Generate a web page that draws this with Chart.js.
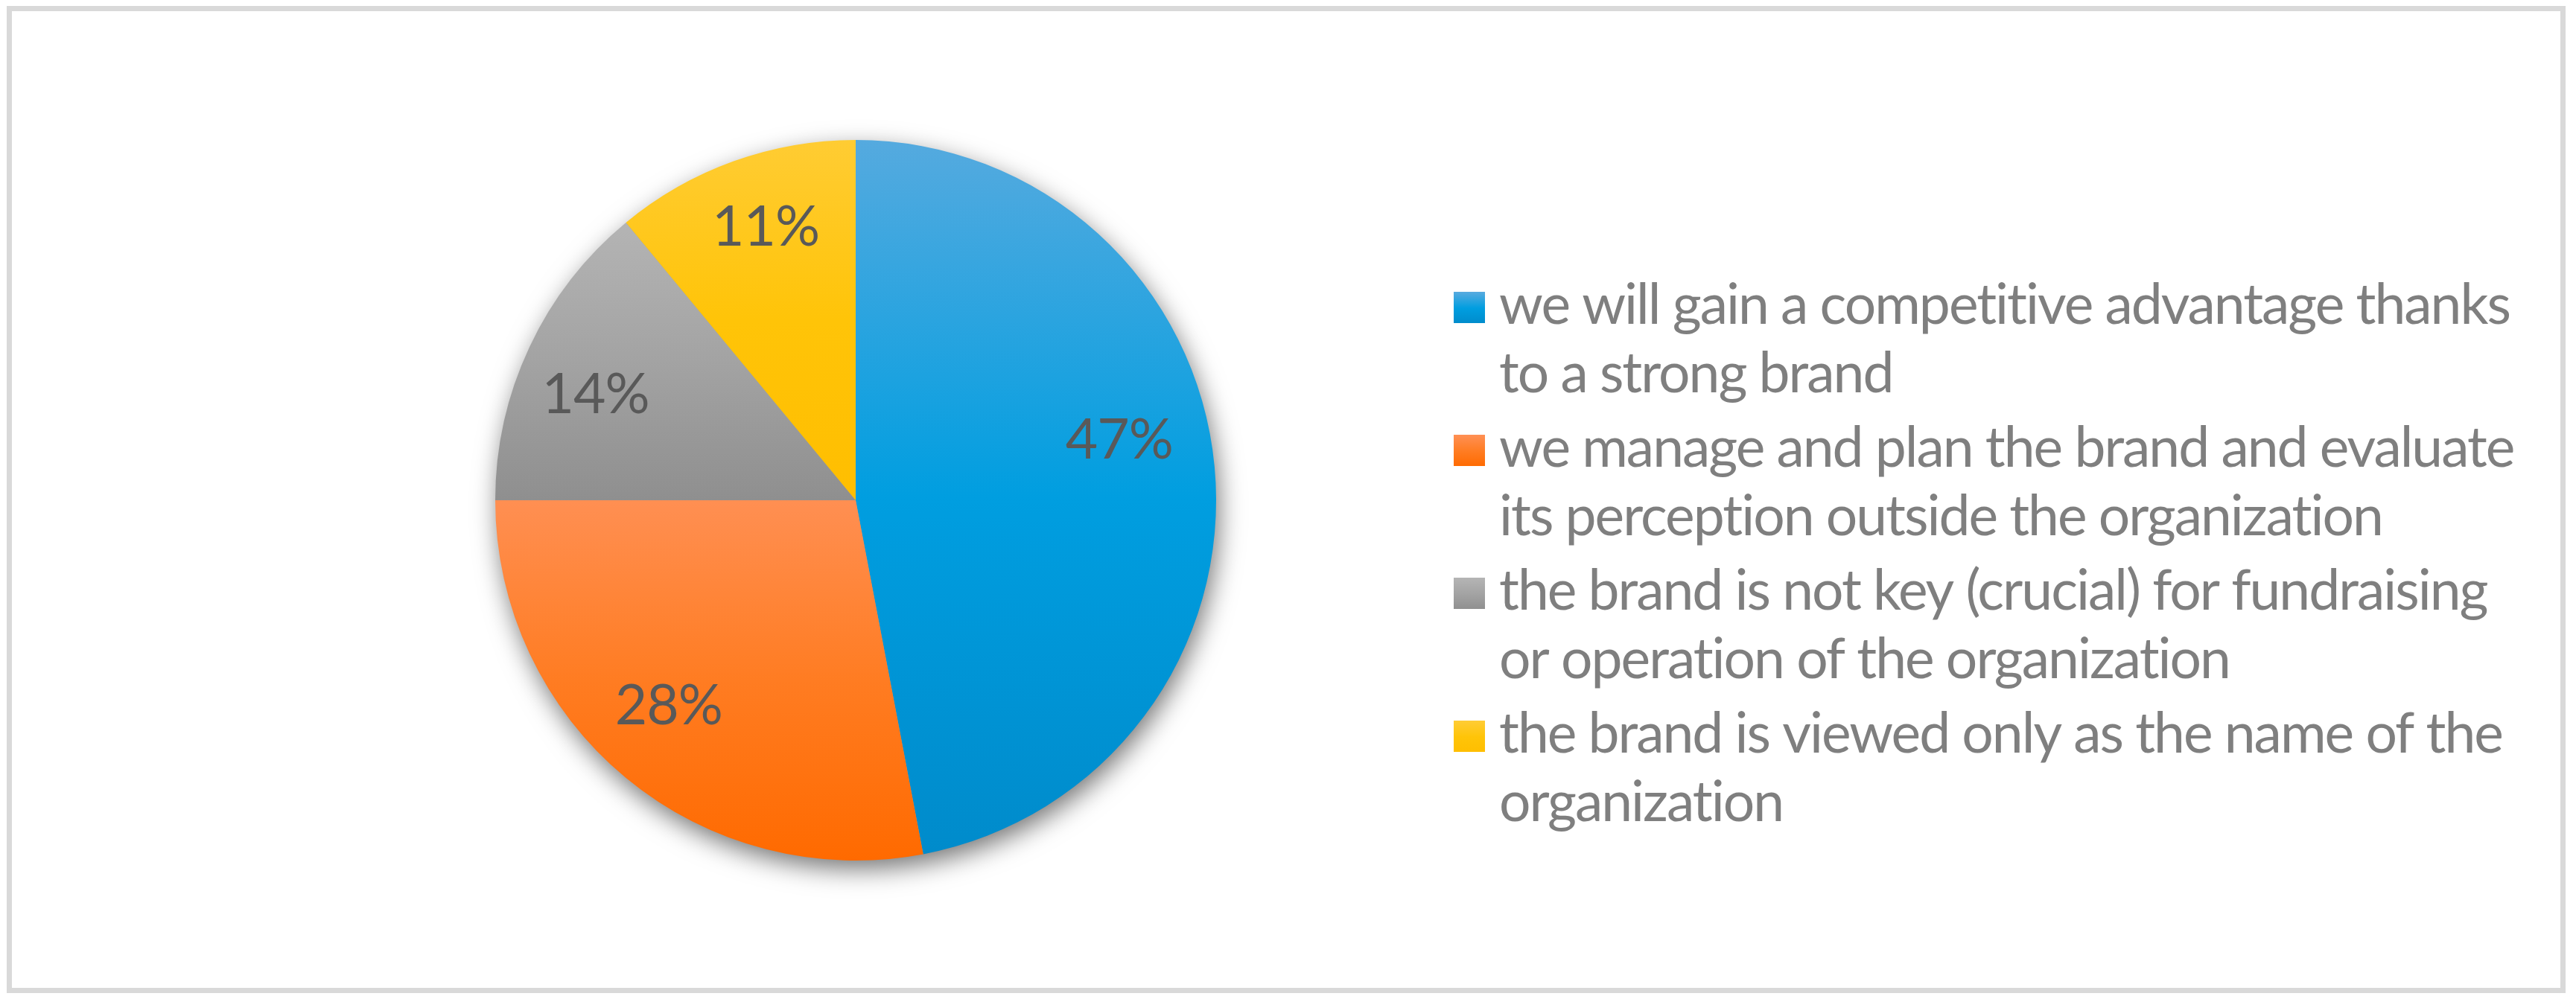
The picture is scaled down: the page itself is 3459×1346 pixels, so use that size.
<!DOCTYPE html>
<html>
<head>
<meta charset="utf-8">
<script src="https://cdn.jsdelivr.net/npm/chart.js@4.4.1/dist/chart.umd.min.js"></script>
<style>
  html, body { margin:0; padding:0; background:#fff; }
  #wrap { position:relative; width:3459px; height:1346px; }
  #frame { position:absolute; left:9px; top:8px; width:3436px; height:1326px;
           border:7px solid #d9d9d9; box-sizing:border-box; }
  #pie { position:absolute; left:0; top:0; }
</style>
</head>
<body>
<div id="wrap">
  <div id="frame"></div>
  <canvas id="pie" width="3459" height="1346"></canvas>
</div>
<script>
// ---------------- DATA ----------------
const categories = [
  ["we will gain a competitive advantage thanks", "to a strong brand"],
  ["we manage and plan the brand and evaluate", "its perception outside the organization"],
  ["the brand is not key (crucial) for fundraising", "or operation of the organization"],
  ["the brand is viewed only as the name of the", "organization"]
];
const shares = [47, 28, 14, 11];

// ---------------- STYLE ----------------
// gradient stops per slice, top -> bottom
const sliceStops = [
  ["#55aadf", "#009ee0", "#008bcb"],
  ["#ff8f52", "#ff7c22", "#ff6a00"],
  ["#b4b4b4", "#a3a3a3", "#8f8f8f"],
  ["#ffcc33", "#ffc408", "#ffbe00"]
];
// small nudges so the % labels sit where the original put them
const labelTurn = [-7.5, 2.8, -3, 1.6];
const labelDist = [0.75, 0.77, 0.78, 0.80];

const FONT = "Lato, 'Open Sans', sans-serif";
const fontSize = 75;
const squeeze = "-2px";   // Lato runs a bit wider than the original face

function sliceFill(ctx){
    const chart = ctx.chart, area = chart.chartArea, i = ctx.dataIndex;
    if (!area || i === undefined) return sliceStops[i || 0][1];
    const cy = (area.top + area.bottom) / 2;
    const r = Math.min(area.right - area.left, area.bottom - area.top) / 2;
    const total = shares.reduce((a, b) => a + b, 0);
    const before = shares.slice(0, i).reduce((a, b) => a + b, 0);
    const a0 = -Math.PI / 2 + before / total * 2 * Math.PI;
    const a1 = a0 + shares[i] / total * 2 * Math.PI;
    const ys = [cy, cy + r * Math.sin(a0), cy + r * Math.sin(a1)];
    [-Math.PI / 2, Math.PI / 2, 3 * Math.PI / 2].forEach(a => {
        if (a >= a0 - 1e-6 && a <= a1 + 1e-6) ys.push(cy + r * Math.sin(a));
    });
    const g = chart.ctx.createLinearGradient(0, Math.min(...ys), 0, Math.max(...ys));
    const s = sliceStops[i];
    g.addColorStop(0, s[0]);
    g.addColorStop(0.5, s[1]);
    g.addColorStop(1, s[2]);
    return g;
}

// ---------------- PLUGINS ----------------
const pieShadow = {
    id: 'pieShadow',
    beforeDatasetsDraw(chart){
        const arc = chart.getDatasetMeta(0).data[0];
        if (!arc) return;
        const c = chart.ctx;
        c.save();
        c.shadowColor = 'rgba(0,0,0,0.55)';
        c.shadowBlur = 34;
        c.shadowOffsetX = 4;
        c.shadowOffsetY = 12;
        c.fillStyle = '#999';
        c.beginPath();
        c.arc(arc.x, arc.y, arc.outerRadius - 1, 0, Math.PI * 2);
        c.fill();
        c.restore();
    }
};

const sliceLabels = {
    id: 'sliceLabels',
    afterDatasetsDraw(chart){
        const c = chart.ctx;
        c.save();
        c.font = fontSize + "px " + FONT;
        c.letterSpacing = "-1px";
        c.fillStyle = '#595959';
        c.textAlign = 'center';
        c.textBaseline = 'alphabetic';
        chart.getDatasetMeta(0).data.forEach((arc, i) => {
            const mid = (arc.startAngle + arc.endAngle) / 2 + labelTurn[i] * Math.PI / 180;
            const d = arc.outerRadius * labelDist[i];
            const x = arc.x + Math.cos(mid) * d;
            const y = arc.y + Math.sin(mid) * d + fontSize * 0.34;
            c.fillText(shares[i] + '%', x, y);
        });
        c.restore();
    }
};

const sideLegend = {
    id: 'sideLegend',
    afterDraw(chart){
        const c = chart.ctx;
        const boxX = 1952, boxSize = 42, textX = 2013;
        const firstBase = 435, itemPitch = 192, linePitch = 92;
        c.save();
        c.font = fontSize + "px " + FONT;
        c.letterSpacing = squeeze;
        c.textAlign = 'left';
        c.textBaseline = 'alphabetic';
        categories.forEach((lines, i) => {
            const base = firstBase + i * itemPitch;
            const g = c.createLinearGradient(0, base - boxSize, 0, base);
            g.addColorStop(0, sliceStops[i][0]);
            g.addColorStop(0.5, sliceStops[i][1]);
            g.addColorStop(1, sliceStops[i][2]);
            c.fillStyle = g;
            c.fillRect(boxX, base - boxSize - 1, boxSize, boxSize);
            c.fillStyle = '#7f7f7f';
            lines.forEach((t, k) => c.fillText(t, textX, base + k * linePitch));
        });
        c.restore();
    }
};

// ---------------- CHART ----------------
new Chart(document.getElementById("pie"), {
    type: 'pie',
    data: {
        labels: categories,
        datasets: [{
            data: shares,
            backgroundColor: sliceFill,
            borderWidth: 0
        }]
    },
    options: {
        responsive: false,
        animation: false,
        layout: { padding: { left: 665, right: 1826, top: 187, bottom: 189 } },
        plugins: {
            legend: { display: false },
            tooltip: { enabled: false }
        }
    },
    plugins: [pieShadow, sliceLabels, sideLegend]
});
</script>
</body>
</html>
